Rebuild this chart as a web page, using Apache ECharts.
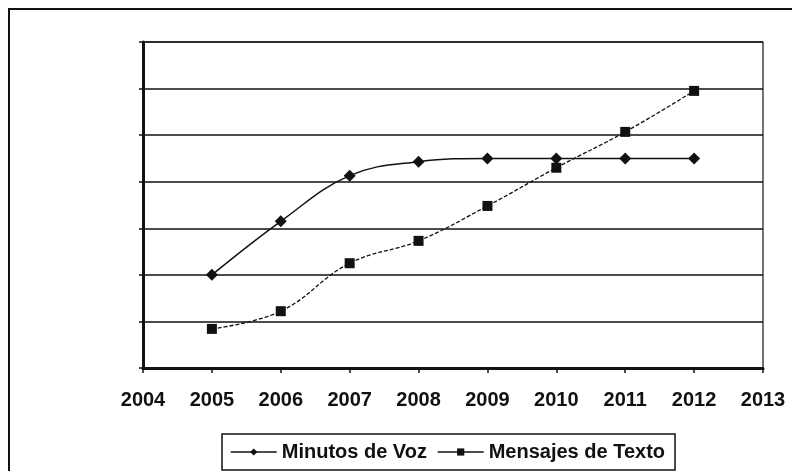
<!DOCTYPE html>
<html>
<head>
<meta charset="utf-8">
<script src="https://cdn.jsdelivr.net/npm/echarts@6/dist/echarts.min.js"></script>
<style>
    html, body { margin: 0; padding: 0; background: #fff; }
    #chart { width: 792px; height: 471px; }
</style>
</head>
<body>
<div id="chart"></div>
<script>
// años del eje x
var years = [2005, 2006, 2007, 2008, 2009, 2010, 2011, 2012];
var minutosVoz = [2.0, 3.15, 4.13, 4.43, 4.5, 4.5, 4.5, 4.5];
var mensajesTexto = [0.84, 1.22, 2.25, 2.73, 3.48, 4.3, 5.07, 5.95];
var xMin = 2004, xMax = 2013;
var yMin = 0, yMax = 7;

function pairs(vals) {
    return years.map(function (y, i) { return [y, vals[i]]; });
}

var ink = '#111';
var font = '"Liberation Sans", Arial, sans-serif';

var chart = echarts.init(document.getElementById('chart'));
chart.setOption({
    animation: false,
    backgroundColor: '#fff',
    graphic: [
        {
            type: 'rect',
            shape: { x: 9, y: 9, width: 900, height: 700 },
            style: { fill: 'none', stroke: ink, lineWidth: 2 }
        }
    ],
    grid: {
        left: 143, right: 29, top: 42, bottom: 103,
        show: true, borderColor: ink, borderWidth: 1.2
    },
    legend: {
        left: 222, top: 434,
        orient: 'horizontal',
        borderColor: ink, borderWidth: 1.5,
        padding: [8, 10, 8, 8],
        itemWidth: 46, itemHeight: 9, itemGap: 10,
        lineStyle: { type: 'solid', width: 1.5, color: ink },
        textStyle: { fontFamily: font, fontSize: 20, fontWeight: 'bold', color: ink },
        data: ['Minutos de Voz', 'Mensajes de Texto']
    },
    xAxis: {
        type: 'value',
        min: xMin, max: xMax, interval: 1,
        axisLine: { show: true, onZero: false, lineStyle: { color: ink, width: 3 } },
        axisTick: { show: true, length: 5, lineStyle: { color: ink, width: 1.5 } },
        axisLabel: {
            margin: 22,
            fontFamily: font, fontSize: 20, fontWeight: 'bold', color: ink,
            formatter: function (v) { return String(v); }
        },
        splitLine: { show: false }
    },
    yAxis: {
        type: 'value',
        min: yMin, max: yMax, interval: 1,
        axisLine: { show: true, lineStyle: { color: ink, width: 3 } },
        axisTick: { show: true, length: 4, lineStyle: { color: ink, width: 1.5 } },
        axisLabel: { show: false },
        splitLine: { show: true, lineStyle: { color: ink, width: 1.5 } }
    },
    series: [
        {
            name: 'Minutos de Voz',
            type: 'line',
            data: pairs(minutosVoz),
            smooth: 0.4,
            symbol: 'diamond',
            symbolSize: 12,
            itemStyle: { color: ink },
            lineStyle: { color: ink, width: 1.5 }
        },
        {
            name: 'Mensajes de Texto',
            type: 'line',
            data: pairs(mensajesTexto),
            smooth: 0.4,
            symbol: 'rect',
            symbolSize: 10,
            itemStyle: { color: ink },
            lineStyle: { color: ink, width: 1.3, type: [4, 2] }
        }
    ]
});
</script>
</body>
</html>
